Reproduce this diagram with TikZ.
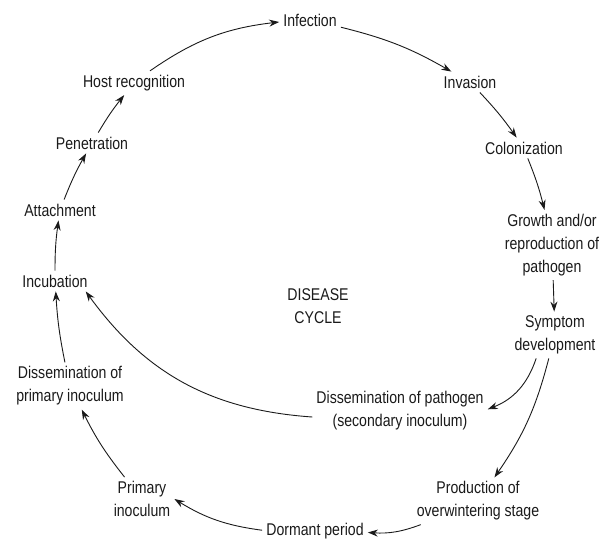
\documentclass[tikz,border=0pt]{standalone}
\usepackage{fontspec}
\setmainfont[FakeStretch=0.83]{Liberation Sans}
\usepackage{xcolor}
\definecolor{ink}{HTML}{1A1A1A}
\usetikzlibrary{arrows.meta}

\begin{document}
\begin{tikzpicture}[x=1pt,y=-1pt,every node/.style={font=\fontsize{17}{23}\selectfont,text=ink}]
\tikzstyle{stage}=[align=center,inner sep=4pt]
\tikzstyle{arr}=[-{Stealth[length=10pt,width=7pt]},ink,line width=0.9pt]
\useasboundingbox (0,0) rectangle (609,538);
\node[stage] (inf) at (310,20) {Infection};
\node[stage] (inv) at (470,82) {Invasion};
\node[stage] (col) at (524,148) {Colonization};
\node[stage] (grow) at (552,245) {Growth and/or\\reproduction of\\pathogen};
\node[stage] (sym) at (555,335) {Symptom\\development};
\node[stage] (dpath) at (400,411) {Dissemination of pathogen\\(secondary inoculum)};
\node[stage] (prod) at (478,501) {Production of\\overwintering stage};
\node[stage] (dorm) at (315,531) {Dormant period};
\node[stage] (prim) at (142,499) {Primary\\inoculum};
\node[stage] (dprim) at (70,386) {Dissemination of\\primary inoculum};
\node[stage] (incu) at (55,281) {Incubation};
\node[stage] (att) at (60,210) {Attachment};
\node[stage] (pen) at (92,143) {Penetration};
\node[stage] (host) at (134,83) {Host recognition};
\node[stage] (cycle) at (318,306) {DISEASE\\CYCLE};
\draw[arr] ([xshift=16]host.north) to[bend left=14] (inf);
\draw[arr] (inf) to[bend left=8] (inv);
\draw[arr] (inv) to[bend left=4] (col);
\draw[arr] (col) to[bend left=4] (grow);
\draw[arr] (grow) -- (sym);
\draw[arr] (sym) to[bend left=25] (dpath);
\draw[arr] (sym) to[bend left=10] (prod);
\draw[arr] ([yshift=-6]dpath.west) to[bend left=25] ([xshift=-6]incu.south east);
\draw[arr] (prod) to[bend left=12] (dorm);
\draw[arr] (dorm) to[bend left=12] (prim.east);
\draw[arr] (prim) to[bend left=6] (dprim);
\draw[arr] (dprim) to[bend left=4] (incu);
\draw[arr] (incu) to[bend left=4] (att);
\draw[arr] (att) to[bend left=4] (pen);
\draw[arr] (pen) to[bend left=4] (host);
\end{tikzpicture}
\end{document}
